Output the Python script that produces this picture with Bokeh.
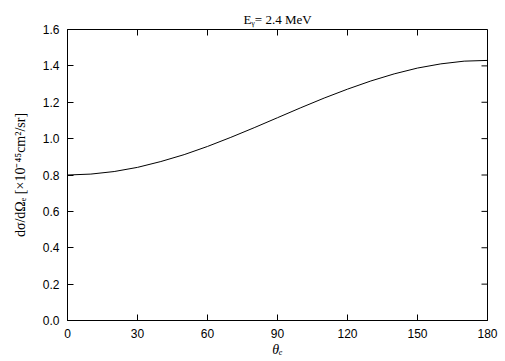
from bokeh.plotting import figure
from bokeh.models import FixedTicker, Range1d
from bokeh.embed import file_html
from bokeh.resources import INLINE

theta = [0, 10, 20, 30, 40, 50, 60, 70, 80, 90, 100, 110, 120, 130, 140, 150, 160, 170, 180]
dsigma = [0.800, 0.805, 0.819, 0.842, 0.874, 0.912, 0.957, 1.007, 1.060, 1.115,
          1.170, 1.223, 1.272, 1.317, 1.356, 1.388, 1.411, 1.426, 1.430]
x_ticks = [0, 30, 60, 90, 120, 150, 180]
y_ticks = [0.0, 0.2, 0.4, 0.6, 0.8, 1.0, 1.2, 1.4, 1.6]
y_tick_labels = ["0.0", "0.2", "0.4", "0.6", "0.8", "1.0", "1.2", "1.4", "1.6"]

XMIN, XMAX, YMIN, YMAX = 0, 180, 0, 1.6
FW, FH = 420, 291

p = figure(frame_width=FW, frame_height=FH, output_backend="svg", toolbar_location=None,
           x_range=Range1d(XMIN, XMAX), y_range=Range1d(YMIN, YMAX),
           min_border_left=67, min_border_right=18, min_border_top=29, min_border_bottom=41,
           title="Eᵧ= 2.4 MeV")
p.title.align = "center"
p.title.vertical_align = "middle"
p.title.text_font = "Liberation Serif"
p.title.text_font_size = "13px"
p.title.text_font_style = "normal"
p.title.text_color = "black"
p.title.standoff = 3
p.background_fill_color = "white"
p.border_fill_color = "white"
p.outline_line_color = "black"
p.outline_line_width = 1
p.xgrid.visible = False
p.ygrid.visible = False

p.line(theta, dsigma, line_color="black", line_width=1)

# mirrored inward ticks on top and right edges (derived from tick arrays)
tx = 6 * (XMAX - XMIN) / FW
ty = 6 * (YMAX - YMIN) / FH
p.segment(x0=x_ticks, y0=[YMAX] * len(x_ticks), x1=x_ticks, y1=[YMAX - ty] * len(x_ticks),
          line_color="black", line_width=1)
p.segment(x0=[XMAX] * len(y_ticks), y0=y_ticks, x1=[XMAX - tx] * len(y_ticks), y1=y_ticks,
          line_color="black", line_width=1)

def style(ax):
    ax.major_tick_in = 6
    ax.major_tick_out = 0
    ax.minor_tick_in = 0
    ax.minor_tick_out = 0
    ax.axis_line_color = "black"
    ax.major_tick_line_color = "black"
    ax.major_label_text_font = "Liberation Sans"
    ax.major_label_text_font_size = "12px"
    ax.major_label_text_color = "black"
    ax.axis_label_text_font = "Liberation Serif"
    ax.axis_label_text_color = "black"

xa = p.xaxis[0]
xa.ticker = FixedTicker(ticks=x_ticks)
style(xa)
xa.major_label_standoff = 8
xa.axis_label = "θₑ"
xa.axis_label_text_font_size = "14px"
xa.axis_label_text_font_style = "italic"
xa.axis_label_standoff = 1

ya = p.yaxis[0]
ya.ticker = FixedTicker(ticks=y_ticks)
ya.major_label_overrides = {t: l for t, l in zip(y_ticks, y_tick_labels)}
style(ya)
ya.major_label_standoff = 8
ya.axis_label = "dσ/dΩₑ [×10⁻⁴⁵cm²/sr]"
ya.axis_label_text_font_size = "14px"
ya.axis_label_text_font_style = "normal"
ya.axis_label_standoff = 12

open("out.html", "w").write(file_html(p, INLINE))
